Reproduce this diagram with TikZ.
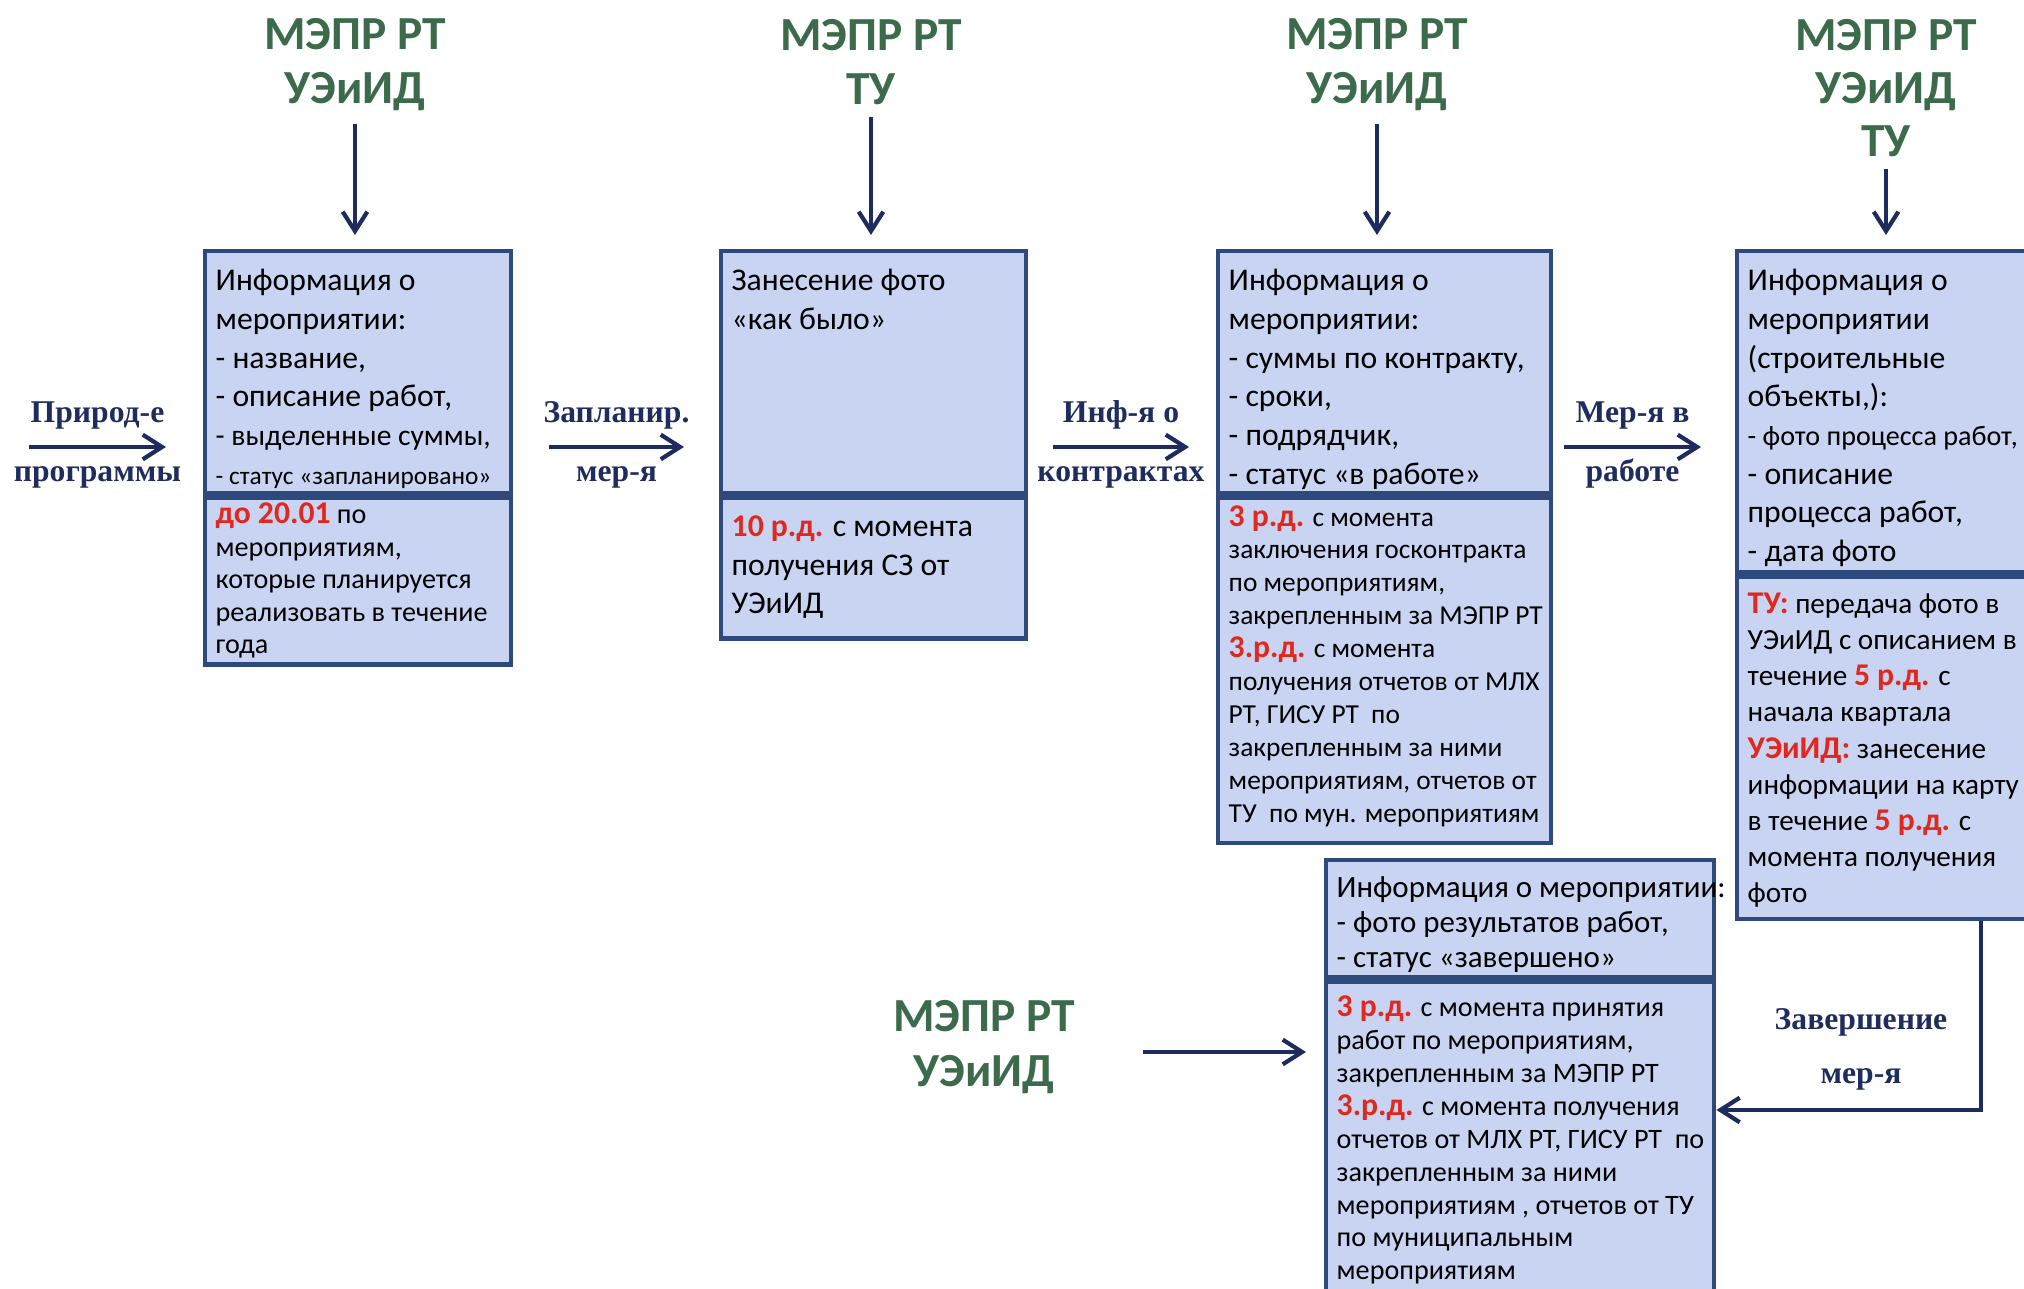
\documentclass[tikz,border=0pt]{standalone}
\usepackage{fontspec}
\setmainfont{Carlito}
\newfontfamily\lblfont{Liberation Serif}
\usetikzlibrary{positioning,arrows.meta}

\definecolor{boxfill}{HTML}{C8D4F2}
\definecolor{boxline}{HTML}{2E4A7C}
\definecolor{flowblue}{HTML}{1D2B5E}
\definecolor{headgreen}{HTML}{3C6B4C}
\definecolor{lblblue}{HTML}{1F2C5E}
\definecolor{termred}{HTML}{E0281E}

\newcommand{\term}[1]{\textcolor{termred}{\fontsize{9}{9}\selectfont\bfseries #1}}

\begin{document}
\begin{tikzpicture} [
	x=0.01cm,y=-0.01cm,
	node distance=0pt,
	part/.style 2 args={
		rectangle,draw=boxline,fill=boxfill,line width=1.2pt,
		inner sep=0pt,minimum width=#1,minimum height=#2
	},
	txt/.style={inner sep=0pt,align=left,anchor=north west},
	head/.style={
		align=center,text=headgreen,
		font=\fontsize{13.5}{15.4}\selectfont\bfseries
	},
	lbl/.style={text=lblblue,align=center,
		font=\lblfont\fontsize{9}{15.4}\selectfont\bfseries},
	arrlbl/.style={lbl,inner sep=1pt,text height=6.3pt,text depth=1.8pt},
	flow/.style={draw=flowblue,line width=1.2pt,
		-{Straight Barb[length=5.5pt,width=7pt]}}
]
\clip (0,0) rectangle (2024,1289);

% frames
\node [part={3.06cm}{2.42cm},anchor=north west]	(b1top) at (203,249)	{};
\node [part={3.06cm}{1.67cm}]	(b1bot)[below=of b1top]		{};
\node [part={3.05cm}{2.42cm},anchor=north west]	(b2top) at (719,249)	{};
\node [part={3.05cm}{1.41cm}]	(b2bot)[below=of b2top]		{};
\node [part={3.33cm}{2.42cm},anchor=north west]	(b3top) at (1216,249)	{};
\node [part={3.33cm}{3.45cm}]	(b3bot)[below=of b3top]		{};
\node [part={3.10cm}{3.21cm},anchor=north west]	(b4top) at (1735,249)	{};
\node [part={3.10cm}{3.42cm}]	(b4bot)[below=of b4top]		{};
\node [part={3.88cm}{1.17cm},anchor=north west]	(b5top) at (1324,858)	{};
\node [part={3.88cm}{3.30cm}]	(b5bot)[below=of b5top]		{};

% texts in the frames
\node [txt,font=\fontsize{9}{11}\selectfont,below right=4pt and 0.12cm of b1top.north west] (i1top)
	{\strut Информация о\\мероприятии:\\- название,\\- описание работ,\\
	{\fontsize{8.4}{11}\selectfont - выделенные суммы,}\\
	{\fontsize{7.2}{11}\selectfont - статус «запланировано»}};
\node [txt,font=\fontsize{8}{9.2}\selectfont,below right=1.5pt and 0.12cm of b1bot.north west] (i1bot)
	{\strut\term{до 20.01} по\\мероприятиям,\\которые планируется\\реализовать в течение\\года};
\node [txt,font=\fontsize{9}{11}\selectfont,below right=4pt and 0.12cm of b2top.north west] (i2top)
	{\strut Занесение фото\\«как было»};
\node [txt,font=\fontsize{9}{11}\selectfont,below right=3.8pt and 0.12cm of b2bot.north west] (i2bot)
	{\strut\term{10 р.д.} с момента\\получения СЗ от\\УЭиИД};
\node [txt,font=\fontsize{9}{11}\selectfont,below right=4pt and 0.12cm of b3top.north west] (i3top)
	{\strut Информация о\\мероприятии:\\- суммы по контракту,\\- сроки,\\- подрядчик,\\- статус «в работе»};
\node [txt,font=\fontsize{7.8}{9.35}\selectfont,below right=2pt and 0.12cm of b3bot.north west] (i3bot)
	{\strut\term{3 р.д.} с момента\\заключения госконтракта\\по мероприятиям,\\закрепленным за МЭПР РТ\\
	\term{3.р.д.} с момента\\получения отчетов от МЛХ\\РТ, ГИСУ РТ~~по\\закрепленным за ними\\
	мероприятиям, отчетов от\\ТУ~~по мун. мероприятиям};
\node [txt,font=\fontsize{9}{11}\selectfont,below right=4pt and 0.12cm of b4top.north west] (i4top)
	{\strut Информация о\\мероприятии\\(строительные\\объекты,):\\
	{\fontsize{8}{11}\selectfont - фото процесса работ,}\\- описание\\процесса работ,\\- дата фото};
\node [txt,font=\fontsize{8.3}{10.3}\selectfont,below right=3.6pt and 0.12cm of b4bot.north west] (i4bot)
	{\strut\term{ТУ:} передача фото в\\УЭиИД с описанием в\\течение \term{5 р.д.} с\\начала квартала\\
	\term{УЭиИД:} занесение\\информации на карту\\в течение \term{5 р.д.} с\\момента получения\\фото};
\node [txt,font=\fontsize{8.8}{9.9}\selectfont,below right=4.1pt and 0.12cm of b5top.north west] (i5top)
	{\strut Информация о мероприятии:\\- фото результатов работ,\\- статус «завершено»};
\node [txt,font=\fontsize{8}{9.35}\selectfont,below right=3.9pt and 0.12cm of b5bot.north west] (i5bot)
	{\strut\term{3 р.д.} с момента принятия\\работ по мероприятиям,\\закрепленным за МЭПР РТ\\
	\term{3.р.д.} с момента получения\\отчетов от МЛХ РТ, ГИСУ РТ~~по\\закрепленным за ними\\
	мероприятиям , отчетов от ТУ\\по муниципальным\\мероприятиям};

% who does it
\node [head]	(h1) at (355,65)	{МЭПР РТ\\УЭиИД};
\node [head]	(h2) at (871,62)	{МЭПР РТ\\ТУ};
\node [head]	(h3) at (1377,65)	{МЭПР РТ\\УЭиИД};
\node [head,font=\fontsize{13.5}{15}\selectfont\bfseries]	(h4) at (1886,88)	{МЭПР РТ\\УЭиИД\\ТУ};
\node [head]	(h5) at (984,1047)	{МЭПР РТ\\УЭиИД};

\draw [flow,shorten >=0.14cm] (h1) -- (h1 |- b1top.north);
\draw [flow,shorten >=0.14cm] (h2) -- (h2 |- b2top.north);
\draw [flow,shorten >=0.14cm] (h3) -- (h3 |- b3top.north);
\draw [flow,shorten >=0.14cm] (h4) -- (h4 |- b4top.north);

\coordinate (in5) at (1143,1052);
\draw [flow,shorten >=0.18cm] (in5) -- (in5 -| b5bot.west);

% flow between the stages
\coordinate (a1s) at (29,447);		\coordinate (a1e) at (166,447);
\coordinate (a2s) at (549,447);		\coordinate (a2e) at (684,447);
\coordinate (a3s) at (1053,447);	\coordinate (a3e) at (1189,447);
\coordinate (a4s) at (1564,447);	\coordinate (a4e) at (1701,447);
\draw [flow] (a1s) -- (a1e)
	node [arrlbl,midway,above=3.6pt] (l1a) {Природ-е}
	node [arrlbl,midway,below=1.9pt] (l1b) {программы};
\draw [flow] (a2s) -- (a2e)
	node [arrlbl,midway,above=3.6pt] (l2a) {Запланир.}
	node [arrlbl,midway,below=1.9pt] (l2b) {мер-я};
\draw [flow] (a3s) -- (a3e)
	node [arrlbl,midway,above=3.6pt] (l3a) {Инф-я о}
	node [arrlbl,midway,below=1.9pt] (l3b) {контрактах};
\draw [flow] (a4s) -- (a4e)
	node [arrlbl,midway,above=3.6pt] (l4a) {Мер-я в}
	node [arrlbl,midway,below=1.9pt] (l4b) {работе};

\coordinate (fb) at (1981,1110);
\draw [flow] (b4bot.south -| fb) |- (b5bot.east |- fb);
\node [lbl]	(done) at (1861,1049)	{Завершение\\мер-я};
\end{tikzpicture}
\end{document}
